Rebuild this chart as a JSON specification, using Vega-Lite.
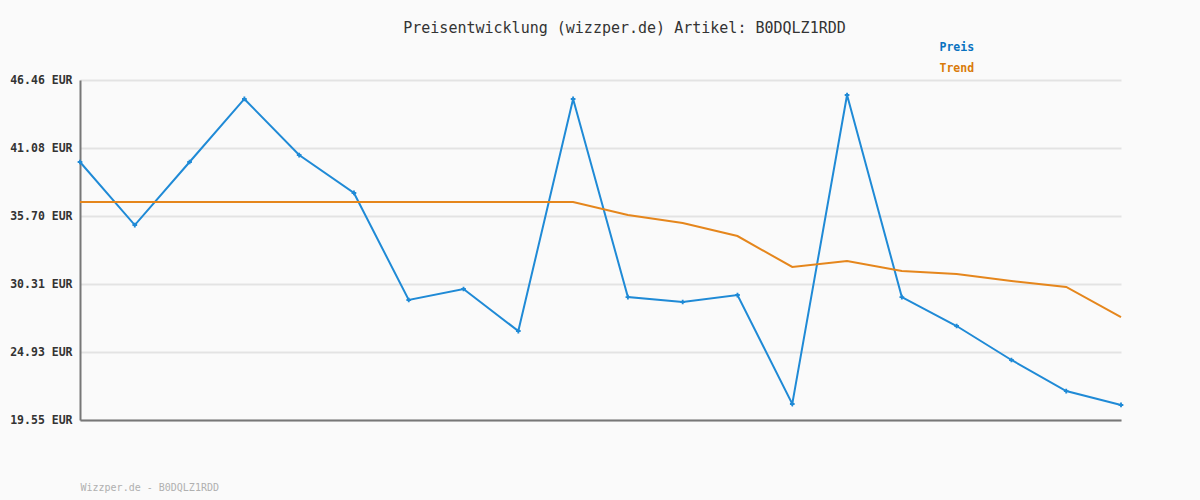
{
  "$schema": "https://vega.github.io/schema/vega-lite/v6.json",
  "width": 1041,
  "height": 340,
  "autosize": {"type": "none"},
  "padding": {"left": 80, "top": 80, "right": 79, "bottom": 80},
  "background": "#fafafa",
  "view": {"stroke": null},
  "title": {
    "text": "Preisentwicklung (wizzper.de) Artikel: B0DQLZ1RDD",
    "font": "DejaVu Sans Mono",
    "fontSize": 15,
    "fontWeight": "normal",
    "color": "#333333",
    "anchor": "middle",
    "dx": 24,
    "offset": 6
  },
  "data": {
    "values": [
      {"i": 0, "s": "Preis", "v": 39.97}, {"i": 1, "s": "Preis", "v": 34.98}, {"i": 2, "s": "Preis", "v": 39.97},
      {"i": 3, "s": "Preis", "v": 44.96}, {"i": 4, "s": "Preis", "v": 40.52}, {"i": 5, "s": "Preis", "v": 37.52},
      {"i": 6, "s": "Preis", "v": 29.05}, {"i": 7, "s": "Preis", "v": 29.92}, {"i": 8, "s": "Preis", "v": 26.59},
      {"i": 9, "s": "Preis", "v": 44.96}, {"i": 10, "s": "Preis", "v": 29.28}, {"i": 11, "s": "Preis", "v": 28.89},
      {"i": 12, "s": "Preis", "v": 29.44}, {"i": 13, "s": "Preis", "v": 20.82}, {"i": 14, "s": "Preis", "v": 45.27},
      {"i": 15, "s": "Preis", "v": 29.28}, {"i": 16, "s": "Preis", "v": 26.99}, {"i": 17, "s": "Preis", "v": 24.30},
      {"i": 18, "s": "Preis", "v": 21.84}, {"i": 19, "s": "Preis", "v": 20.74},
      {"i": 0, "s": "Trend", "v": 36.8}, {"i": 1, "s": "Trend", "v": 36.8}, {"i": 2, "s": "Trend", "v": 36.8},
      {"i": 3, "s": "Trend", "v": 36.8}, {"i": 4, "s": "Trend", "v": 36.8}, {"i": 5, "s": "Trend", "v": 36.8},
      {"i": 6, "s": "Trend", "v": 36.8}, {"i": 7, "s": "Trend", "v": 36.8}, {"i": 8, "s": "Trend", "v": 36.8},
      {"i": 9, "s": "Trend", "v": 36.8}, {"i": 10, "s": "Trend", "v": 35.77}, {"i": 11, "s": "Trend", "v": 35.14},
      {"i": 12, "s": "Trend", "v": 34.11}, {"i": 13, "s": "Trend", "v": 31.66}, {"i": 14, "s": "Trend", "v": 32.13},
      {"i": 15, "s": "Trend", "v": 31.34}, {"i": 16, "s": "Trend", "v": 31.1}, {"i": 17, "s": "Trend", "v": 30.55},
      {"i": 18, "s": "Trend", "v": 30.08}, {"i": 19, "s": "Trend", "v": 27.7}
    ]
  },
  "encoding": {
    "x": {
      "field": "i", "type": "quantitative",
      "scale": {"domain": [0, 19], "nice": false, "zero": false},
      "axis": {
        "labels": false, "ticks": false, "grid": false,
        "domainColor": "#777777", "domainWidth": 2,
        "title": "Wizzper.de - B0DQLZ1RDD",
        "titleFont": "DejaVu Sans Mono", "titleFontSize": 10, "titleFontWeight": "normal",
        "titleColor": "#b0b0b0", "titleAnchor": "start", "titleAlign": "left",
        "titlePadding": 62
      }
    },
    "y": {
      "field": "v", "type": "quantitative",
      "scale": {"domain": [19.55, 46.46], "nice": false, "zero": false},
      "axis": {
        "values": [19.55, 24.932, 30.314, 35.696, 41.078, 46.46],
        "labelExpr": "format(datum.value, '.2f') + ' EUR'",
        "labelFont": "DejaVu Sans Mono", "labelFontSize": 11.5, "labelFontWeight": "bold",
        "labelColor": "#333333", "labelPadding": 8,
        "ticks": false, "title": null,
        "domainColor": "#777777", "domainWidth": 2,
        "gridColor": "#e3e3e3", "gridWidth": 2
      }
    },
    "color": {
      "field": "s", "type": "nominal",
      "scale": {"domain": ["Preis", "Trend"], "range": ["#1f8ad6", "#e5861c"]},
      "legend": {
        "orient": "none", "legendX": 844, "legendY": -38,
        "title": null,
        "symbolSize": 0, "symbolOpacity": 0, "symbolStrokeWidth": 0,
        "labelFont": "DejaVu Sans Mono", "labelFontSize": 11.5, "labelFontWeight": "bold",
        "labelColor": {"expr": "datum.value == 'Preis' ? '#0a72c0' : '#d97b0a'"},
        "rowPadding": 8
      }
    }
  },
  "layer": [
    {"mark": {"type": "line", "strokeWidth": 2}},
    {
      "transform": [{"filter": "datum.s == 'Preis'"}],
      "mark": {"type": "point", "shape": "cross", "filled": true, "size": 22, "color": "#0a6fc0", "opacity": 1}
    }
  ]
}
